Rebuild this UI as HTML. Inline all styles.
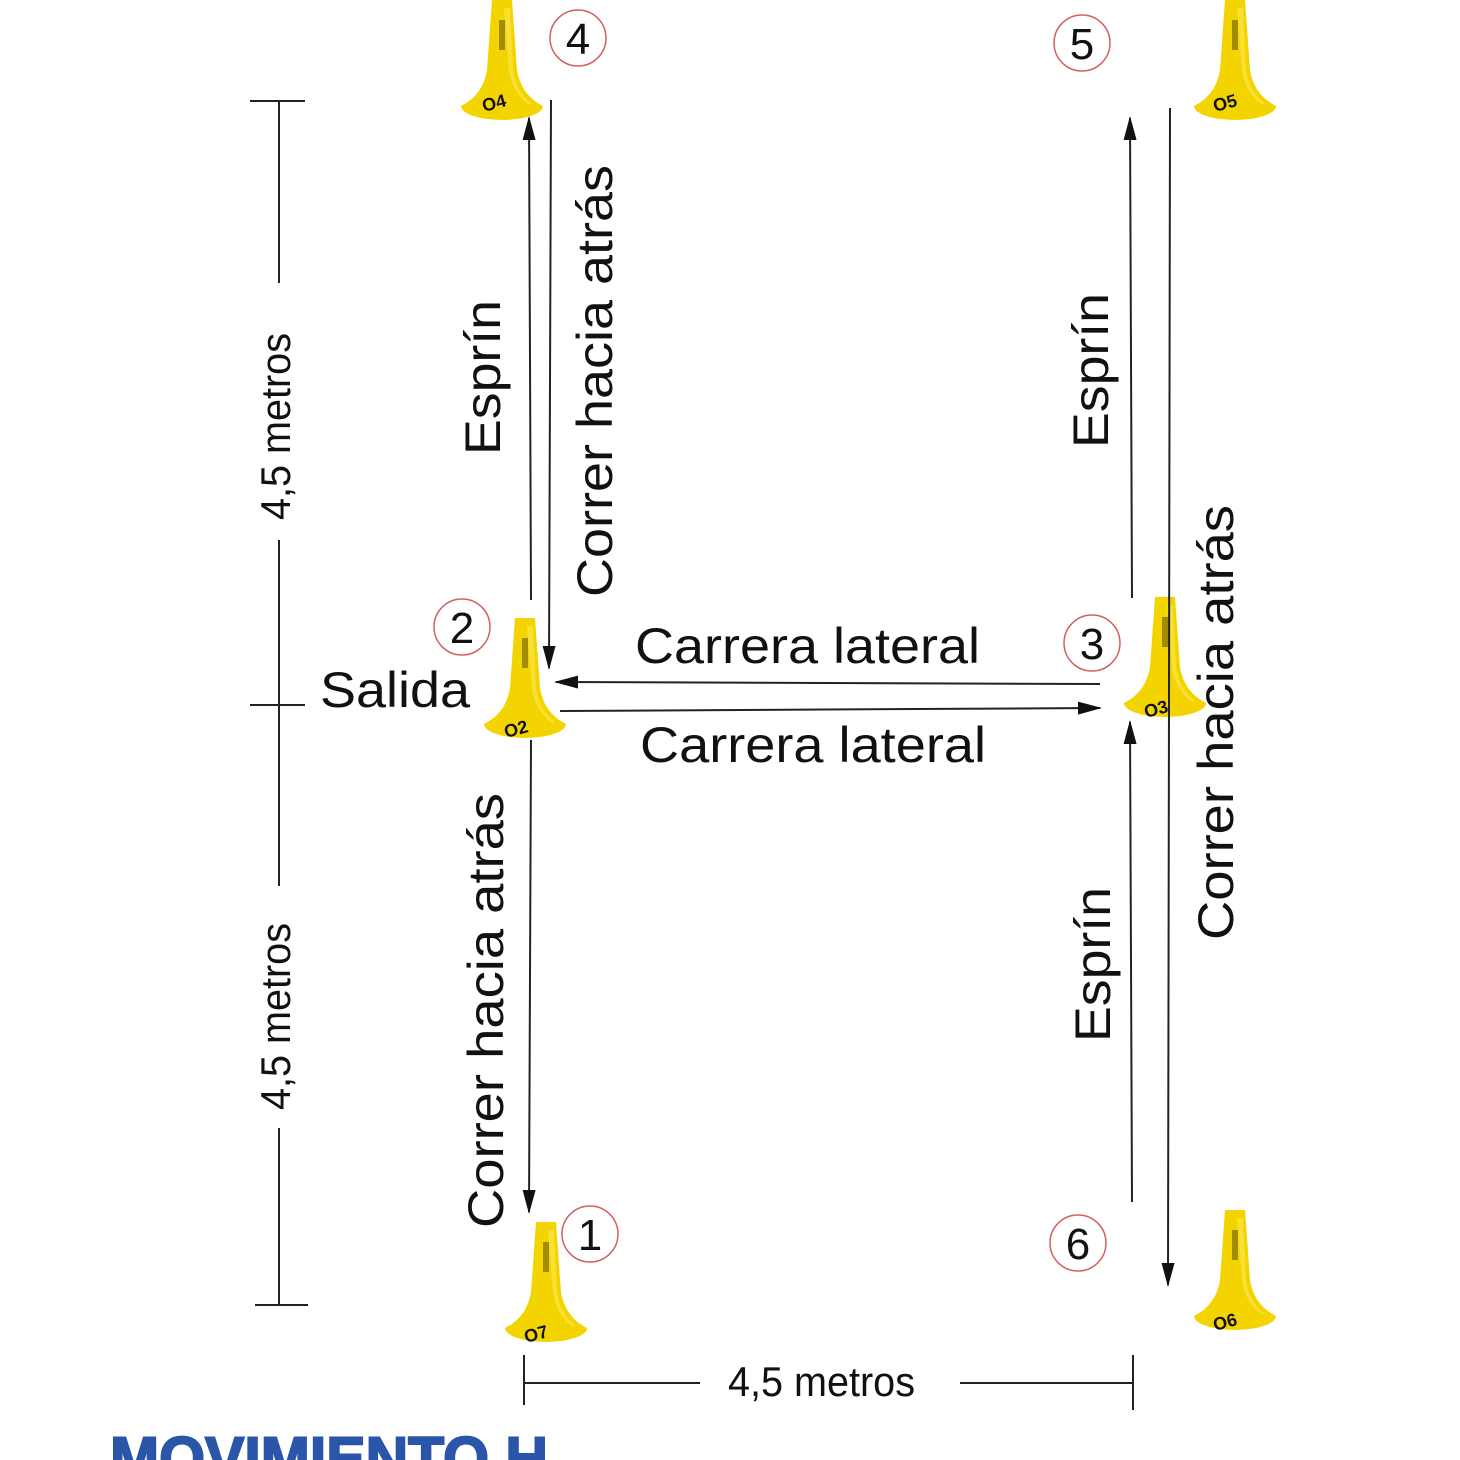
<!DOCTYPE html>
<html><head><meta charset="utf-8"><style>
html,body{margin:0;padding:0;background:#fff;}
svg{display:block;}
text{font-family:"Liberation Sans",sans-serif;fill:#111;}
</style></head><body>
<svg width="1460" height="1460" viewBox="0 0 1460 1460" xmlns="http://www.w3.org/2000/svg">
<defs>
<marker id="ah" markerWidth="24" markerHeight="13" refX="22" refY="6.5" orient="auto" markerUnits="userSpaceOnUse" viewBox="0 0 24 13">
<path d="M0 0 L24 6.5 L0 13 Z" fill="#111"/>
</marker>
<g id="cone">
<path d="M-10 0 L10 0 L15 70 Q19 95 41 106 A41 14 0 0 1 -41 106 Q-19 95 -15 70 Z" fill="#f4d400"/>
<path d="M2 8 L8 8 L11 70 Q14 92 30 104 L26 104 Q10 92 7 70 Z" fill="#fbe64a" opacity="0.7"/>
<rect x="-3" y="20" width="6" height="30" fill="#6b5a00" opacity="0.6"/>
</g>
</defs>

<use href="#cone" x="502" y="0"/>
<text x="484" y="112" font-size="18" font-weight="bold" transform="rotate(-15 484 112)">O4</text>
<use href="#cone" x="1235" y="0"/>
<text x="1215" y="112" font-size="18" font-weight="bold" transform="rotate(-15 1215 112)">O5</text>
<use href="#cone" x="525" y="618"/>
<text x="506" y="738" font-size="18" font-weight="bold" transform="rotate(-15 506 738)">O2</text>
<use href="#cone" x="1165" y="597"/>
<text x="1146" y="718" font-size="18" font-weight="bold" transform="rotate(-15 1146 718)">O3</text>
<use href="#cone" x="546" y="1222"/>
<text x="526" y="1343" font-size="18" font-weight="bold" transform="rotate(-15 526 1343)">O7</text>
<use href="#cone" x="1235" y="1210"/>
<text x="1215" y="1331" font-size="18" font-weight="bold" transform="rotate(-15 1215 1331)">O6</text>

<g stroke="#222" stroke-width="2" fill="none">
<line x1="279" y1="101" x2="279" y2="283"/>
<line x1="279" y1="540" x2="279" y2="886"/>
<line x1="279" y1="1128" x2="279" y2="1305"/>
<line x1="250" y1="101" x2="305" y2="101"/>
<line x1="250" y1="705" x2="305" y2="705"/>
<line x1="255" y1="1305" x2="308" y2="1305"/>
<line x1="524" y1="1383" x2="700" y2="1383"/>
<line x1="960" y1="1383" x2="1133" y2="1383"/>
<line x1="524" y1="1355" x2="524" y2="1405"/>
<line x1="1133" y1="1355" x2="1133" y2="1410"/>
</g>
<g stroke="#222" stroke-width="2" fill="none" marker-end="url(#ah)">
<line x1="531" y1="600" x2="529" y2="118"/>
<line x1="551" y1="100" x2="549" y2="668"/>
<line x1="531" y1="740" x2="529" y2="1212"/>
<line x1="1100" y1="684" x2="556" y2="682"/>
<line x1="560" y1="711" x2="1100" y2="708"/>
<line x1="1132" y1="598" x2="1130" y2="118"/>
<line x1="1170" y1="108" x2="1168" y2="1285"/>
<line x1="1132" y1="1202" x2="1130" y2="722"/>
</g>

<g stroke="#d06060" stroke-width="1.5" fill="none">
<circle cx="578" cy="38" r="28"/>
<circle cx="1082" cy="43" r="28"/>
<circle cx="462" cy="627" r="28"/>
<circle cx="1092" cy="643" r="28"/>
<circle cx="590" cy="1234" r="28"/>
<circle cx="1078" cy="1243" r="28"/>
</g>
<g font-size="44" text-anchor="middle">
<text x="578" y="54">4</text>
<text x="1082" y="59">5</text>
<text x="462" y="643">2</text>
<text x="1092" y="659">3</text>
<text x="590" y="1250">1</text>
<text x="1078" y="1259">6</text>
</g>

<text x="320" y="707" font-size="50" textLength="150" lengthAdjust="spacingAndGlyphs">Salida</text>
<text x="635" y="663" font-size="50" textLength="345" lengthAdjust="spacingAndGlyphs">Carrera lateral</text>
<text x="640" y="762" font-size="50" textLength="346" lengthAdjust="spacingAndGlyphs">Carrera lateral</text>
<text x="728" y="1396" font-size="42" textLength="187" lengthAdjust="spacingAndGlyphs">4,5 metros</text>

<text transform="translate(290 520) rotate(-90)" font-size="42" textLength="187" lengthAdjust="spacingAndGlyphs">4,5 metros</text>
<text transform="translate(290 1110) rotate(-90)" font-size="42" textLength="187" lengthAdjust="spacingAndGlyphs">4,5 metros</text>

<text transform="translate(500 455) rotate(-90)" font-size="50" textLength="155" lengthAdjust="spacingAndGlyphs">Esprín</text>
<text transform="translate(612 597) rotate(-90)" font-size="50" textLength="432" lengthAdjust="spacingAndGlyphs">Correr hacia atrás</text>
<text transform="translate(1108 448) rotate(-90)" font-size="50" textLength="155" lengthAdjust="spacingAndGlyphs">Esprín</text>
<text transform="translate(1233 940) rotate(-90)" font-size="50" textLength="435" lengthAdjust="spacingAndGlyphs">Correr hacia atrás</text>
<text transform="translate(1110 1042) rotate(-90)" font-size="50" textLength="155" lengthAdjust="spacingAndGlyphs">Esprín</text>
<text transform="translate(503 1228) rotate(-90)" font-size="50" textLength="435" lengthAdjust="spacingAndGlyphs">Correr hacia atrás</text>

<text x="110" y="1479" font-size="60" font-weight="bold" style="fill:#2a55a8;stroke:#2a55a8;stroke-width:2" textLength="438" lengthAdjust="spacingAndGlyphs">MOVIMIENTO H</text>
</svg>
</body></html>
